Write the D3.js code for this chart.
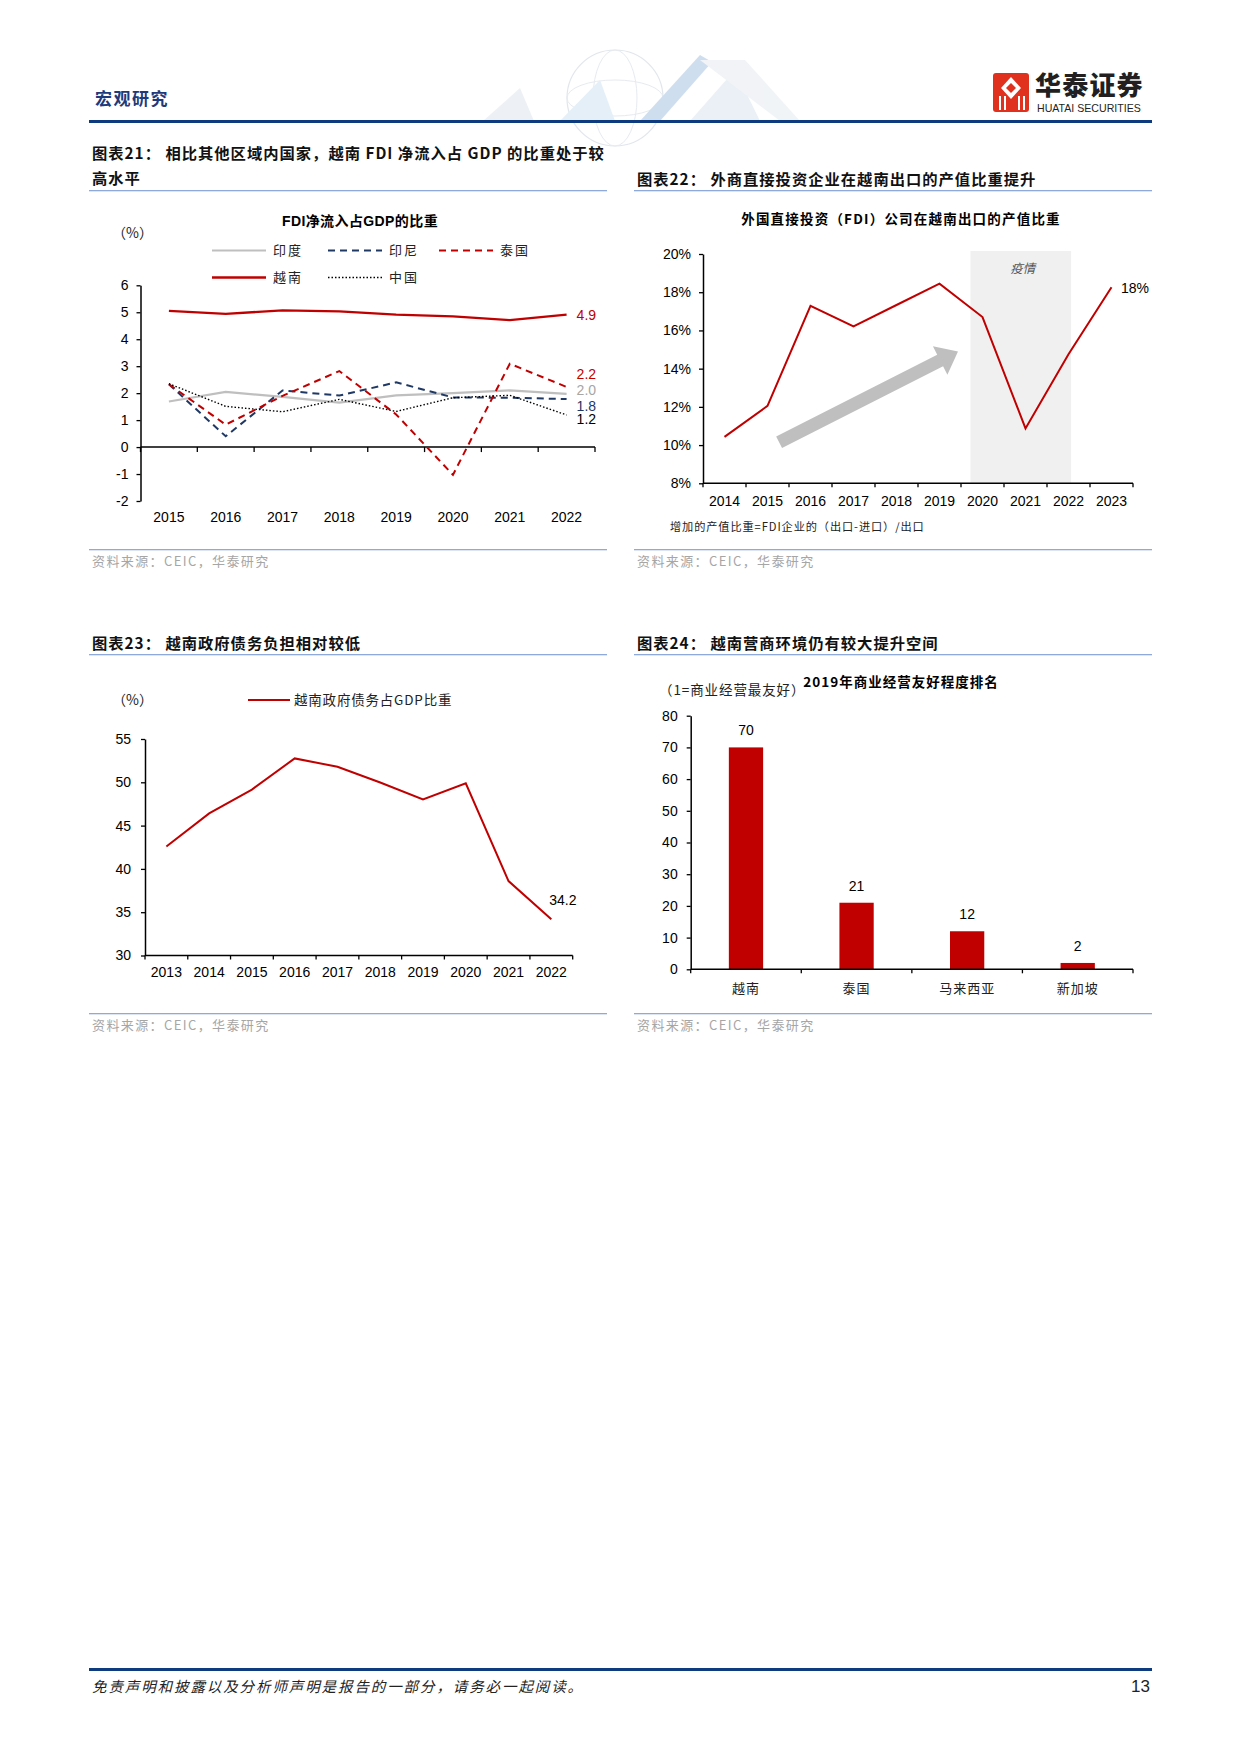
<!DOCTYPE html>
<html><head><meta charset="utf-8">
<script src="https://cdn.jsdelivr.net/npm/d3@7"></script>
<style>
html,body{margin:0;padding:0;background:#fff;}
svg{display:block;}
text{font-family:"Liberation Sans",Arial,"Noto Sans CJK SC",sans-serif;}
.cjk{font-family:"Noto Sans CJK SC",sans-serif;}
</style></head>
<body>
<script>
// ---------- DATA ----------
const fdiYears = ['2015','2016','2017','2018','2019','2020','2021','2022'];
const fdiIndia     = [1.69, 2.05, 1.86, 1.65, 1.92, 2.00, 2.10, 1.97];
const fdiIndonesia = [2.33, 0.40, 2.10, 1.91, 2.40, 1.84, 1.83, 1.78];
const fdiThailand  = [2.33, 0.83, 1.90, 2.82, 1.21, -1.03, 3.09, 2.23];
const fdiVietnam   = [5.05, 4.94, 5.07, 5.03, 4.91, 4.85, 4.71, 4.91];
const fdiChina     = [2.35, 1.51, 1.31, 1.77, 1.32, 1.83, 1.92, 1.19];
const fdiSeriesNames = ['印度','印尼','泰国','越南','中国'];
const fdiEndLabels = ['2.0','1.8','2.2','4.9','1.2'];
const fdiTicks = [-2,-1,0,1,2,3,4,5,6];

const expYears = ['2014','2015','2016','2017','2018','2019','2020','2021','2022','2023'];
const expShare = [10.43, 12.05, 17.29, 16.21, 17.33, 18.45, 16.70, 10.87, 14.75, 18.26];
const expTicks = [8,10,12,14,16,18,20];
const expEndLabel = '18%';
const expShadeFrom = '2020', expShadeTo = '2022';
const expShadeLabel = '疫情';

const debtYears = ['2013','2014','2015','2016','2017','2018','2019','2020','2021','2022'];
const debtShare = [42.58, 46.41, 49.16, 52.76, 51.79, 49.97, 48.03, 49.89, 38.59, 34.2];
const debtTicks = [30,35,40,45,50,55];
const debtEndLabel = '34.2';

const rankCountries = ['越南','泰国','马来西亚','新加坡'];
const rankValues = [70, 21, 12, 2];
const rankTicks = [0,10,20,30,40,50,60,70,80];

// ---------- PAGE ----------
const W = 1240, H = 1754;
const svg = d3.select('body').append('svg').attr('width', W).attr('height', H);
const RED = '#c00000', NAVY = '#1f3864', GRAY = '#bfbfbf', RULE = '#8eaadb';

// header decoration (faint globe + chevrons)
const deco = svg.append('g').attr('opacity', 0.55);
deco.append('circle').attr('cx', 615).attr('cy', 98).attr('r', 48).attr('fill', 'none').attr('stroke', '#c9d3de').attr('stroke-width', 1.2);
deco.append('ellipse').attr('cx', 615).attr('cy', 98).attr('rx', 22).attr('ry', 48).attr('fill', 'none').attr('stroke', '#d3dbe4').attr('stroke-width', 1);
deco.append('ellipse').attr('cx', 615).attr('cy', 98).attr('rx', 48).attr('ry', 18).attr('fill', 'none').attr('stroke', '#d3dbe4').attr('stroke-width', 1);
deco.append('path').attr('d', 'M483,121 L520,88 L534,121 Z').attr('fill', '#dfe6ee');
deco.append('path').attr('d', 'M560,121 L600,80 L615,121 Z').attr('fill', '#cfe3f3');
deco.append('path').attr('d', 'M640,121 L700,55 L712,62 L660,121 Z').attr('fill', '#a9c4e2');
deco.append('path').attr('d', 'M690,121 L735,70 L760,121 Z').attr('fill', '#dbe5ef');
deco.append('path').attr('d', 'M700,60 L745,60 L800,121 L780,121 Z').attr('fill', '#e6ebf1');

svg.append('text').attr('class','cjk').attr('x', 95).attr('y', 105).attr('font-size', 17).attr('font-weight', 700)
  .attr('letter-spacing', 1.5).attr('fill', '#1f3a7a').text('宏观研究');
// logo
const logo = svg.append('g');
logo.append('rect').attr('x', 993).attr('y', 73).attr('width', 36).attr('height', 39).attr('rx', 3).attr('fill', '#e0301e');
logo.append('path').attr('d', 'M1011,77 L1021,88 L1011,99 L1001,88 Z').attr('fill', '#fff');
logo.append('path').attr('d', 'M1011,83 L1016,88 L1011,93 L1006,88 Z').attr('fill', '#e0301e');
[999,1004,1018,1023].forEach(x => logo.append('rect').attr('x', x).attr('y', 96).attr('width', 2).attr('height', 14).attr('fill', '#fff'));
logo.append('text').attr('class','cjk').attr('x', 1035).attr('y', 95).attr('font-size', 26).attr('font-weight', 900)
  .attr('letter-spacing', 1.2).attr('fill', '#231f20').text('华泰证券');
logo.append('text').attr('x', 1037).attr('y', 112).attr('font-size', 10.6).attr('fill', '#231f20').text('HUATAI SECURITIES');
svg.append('rect').attr('x', 89).attr('y', 120).attr('width', 1063).attr('height', 3).attr('fill', '#0d3b7e');

// footer
svg.append('rect').attr('x', 89).attr('y', 1668).attr('width', 1063).attr('height', 3).attr('fill', '#0d3b7e');
svg.append('text').attr('class','cjk').attr('x', 92).attr('y', 1692).attr('font-size', 14.5).attr('font-style', 'italic')
  .attr('letter-spacing', 1.9).attr('fill', '#222').text('免责声明和披露以及分析师声明是报告的一部分，请务必一起阅读。');
svg.append('text').attr('x', 1150).attr('y', 1692).attr('text-anchor', 'end').attr('font-size', 17).attr('fill', '#222').text('13');

// panel helpers
function sectionTitle(x, y, lines, x2, ruleY) {
  lines.forEach((t, i) => svg.append('text').attr('class','cjk').attr('x', x).attr('y', y + i * 25)
    .attr('font-size', 15.3).attr('font-weight', 700).attr('fill', '#111').attr('letter-spacing', 1.0).text(t));
  svg.append('rect').attr('x', x - 3).attr('y', ruleY).attr('width', x2 - x + 3).attr('height', 1.3).attr('fill', RULE);
}
function source(x, x2, ruleY) {
  svg.append('rect').attr('x', x - 3).attr('y', ruleY).attr('width', x2 - x + 3).attr('height', 1.3).attr('fill', RULE);
  svg.append('text').attr('class','cjk').attr('x', x).attr('y', ruleY + 17).attr('font-size', 13).attr('fill', '#a6a6a6')
    .attr('letter-spacing', 1.4).text('资料来源：CEIC，华泰研究');
}
function bandAxis(g, x, y0, tickLen) {
  const [r0, r1] = x.range();
  g.append('line').attr('x1', r0).attr('x2', r1).attr('y1', y0).attr('y2', y0).attr('stroke', '#000').attr('stroke-width', 1.5);
  const n = x.domain().length;
  d3.range(n + 1).forEach(i => {
    const tx = r0 + (r1 - r0) / n * i;
    g.append('line').attr('x1', tx).attr('x2', tx).attr('y1', y0).attr('y2', y0 + tickLen).attr('stroke', '#000').attr('stroke-width', 1.3);
  });
}
function yAxis(g, y, x0, ticks, fmt, pad) {
  const ax = d3.axisLeft(y).tickValues(ticks).tickSize(4).tickSizeOuter(0).tickPadding(pad).tickFormat(fmt);
  const a = g.append('g').attr('transform', `translate(${x0},0)`).call(ax);
  a.select('.domain').attr('stroke', '#000').attr('stroke-width', 1.5);
  a.selectAll('.tick line').attr('stroke', '#000').attr('stroke-width', 1.3);
  a.selectAll('.tick text').attr('font-size', 14).attr('fill', '#000').attr('font-family', '"Liberation Sans",Arial,sans-serif');
  return a;
}

// ---------- CHART 21 ----------
sectionTitle(92, 159, ['图表21：  相比其他区域内国家，越南 FDI 净流入占 GDP 的比重处于较', '高水平'], 607, 190);
{
  const g = svg.append('g');
  const x = d3.scaleBand().domain(fdiYears).range([140.5, 595]);
  const y = d3.scaleLinear().domain([-2, 6]).range([501, 285.3]);
  g.append('text').attr('x', 360).attr('y', 226).attr('text-anchor', 'middle').attr('font-size', 14).attr('font-weight', 700)
    .attr('letter-spacing', 0.4).attr('fill', '#000').text('FDI净流入占GDP的比重');
  g.append('text').attr('class','cjk').attr('x', 112).attr('y', 238).attr('font-size', 14).attr('fill', '#222').text('（%）');
  yAxis(g, y, 140.5, fdiTicks, d => String(d), 8);
  bandAxis(g, x, y(0), 5);
  fdiYears.forEach(yr => g.append('text').attr('x', x(yr) + x.bandwidth() / 2).attr('y', 522).attr('text-anchor', 'middle')
    .attr('font-size', 14).attr('fill', '#000').text(yr));
  const series = [
    {name: fdiSeriesNames[0], v: fdiIndia, c: GRAY, w: 2.2, dash: null, lx: 212, ly: 250.5, lab: fdiEndLabels[0], dy: -3.5},
    {name: fdiSeriesNames[1], v: fdiIndonesia, c: NAVY, w: 2, dash: '7,5', lx: 328, ly: 250.5, lab: fdiEndLabels[1], dy: 7},
    {name: fdiSeriesNames[2], v: fdiThailand, c: RED, w: 2, dash: '7,5', lx: 439, ly: 250.5, lab: fdiEndLabels[2], dy: -13},
    {name: fdiSeriesNames[3], v: fdiVietnam, c: RED, w: 2.3, dash: null, lx: 212, ly: 277.5, lab: fdiEndLabels[3], dy: 0},
    {name: fdiSeriesNames[4], v: fdiChina, c: '#000', w: 1.4, dash: '1.5,2', lx: 328, ly: 277.5, lab: fdiEndLabels[4], dy: 4.5}
  ];
  const line = d3.line().x((d, i) => x(fdiYears[i]) + x.bandwidth() / 2).y(d => y(d));
  const labColors = {'印度': '#a6a6a6', '印尼': NAVY, '泰国': RED, '越南': RED, '中国': '#000'};
  series.forEach(s => {
    g.append('path').datum(s.v).attr('d', line).attr('fill', 'none').attr('stroke', s.c).attr('stroke-width', s.w)
      .attr('stroke-dasharray', s.dash);
    g.append('line').attr('x1', s.lx).attr('x2', s.lx + 54).attr('y1', s.ly).attr('y2', s.ly).attr('stroke', s.c)
      .attr('stroke-width', s.w).attr('stroke-dasharray', s.dash);
    g.append('text').attr('class','cjk').attr('x', s.lx + 61).attr('y', s.ly + 4.5).attr('font-size', 13).attr('fill', '#222')
      .attr('letter-spacing', 2).text(s.name);
    const last = s.v.length - 1;
    g.append('text').attr('x', x(fdiYears[last]) + x.bandwidth() / 2 + 10).attr('y', y(s.v[last]) + s.dy + 5)
      .attr('font-size', 14).attr('fill', labColors[s.name]).text(s.lab);
  });
}
source(92, 607, 549);

// ---------- CHART 22 ----------
sectionTitle(637, 185, ['图表22：  外商直接投资企业在越南出口的产值比重提升'], 1152, 190);
{
  const g = svg.append('g');
  const x = d3.scaleBand().domain(expYears).range([703, 1133]);
  const y = d3.scaleLinear().domain([8, 20]).range([483.3, 254]);
  const cx = yr => x(yr) + x.bandwidth() / 2;
  g.append('text').attr('class','cjk').attr('x', 901).attr('y', 224).attr('text-anchor', 'middle').attr('font-size', 13.5)
    .attr('font-weight', 700).attr('letter-spacing', 1.2).attr('fill', '#000').text('外国直接投资（FDI）公司在越南出口的产值比重');
  // shaded period
  const sx0 = cx(expShadeFrom) - 0.28 * x.step(), sx1 = cx(expShadeTo) + 0.06 * x.step();
  g.append('rect').attr('x', sx0).attr('y', y(20) - 3).attr('width', sx1 - sx0).attr('height', y(8) - y(20) + 3).attr('fill', '#f0f0f0');
  g.append('text').attr('class','cjk').attr('x', (sx0 + sx1) / 2 + 2).attr('y', 273).attr('text-anchor', 'middle')
    .attr('font-size', 12.5).attr('font-style', 'italic').attr('fill', '#555').text(expShadeLabel);
  // arrow (data space anchors)
  const ax0 = cx(expYears[1]) + 0.27 * x.step(), ay0 = y(10.15);
  const ax1 = cx(expYears[5]) + 0.43 * x.step(), ay1 = y(14.9);
  const dx = ax1 - ax0, dy = ay1 - ay0, L = Math.hypot(dx, dy), ux = dx / L, uy = dy / L, nx = -uy, ny = ux;
  const hl = 20, hw = 16, sw = 6.5;
  const bx = ax1 - ux * hl, by = ay1 - uy * hl;
  const pts = [[ax0 + nx * sw, ay0 + ny * sw], [bx + nx * sw, by + ny * sw], [bx + nx * hw, by + ny * hw], [ax1, ay1],
    [bx - nx * hw, by - ny * hw], [bx - nx * sw, by - ny * sw], [ax0 - nx * sw, ay0 - ny * sw]];
  g.append('path').attr('d', 'M' + pts.map(p => p.join(',')).join('L') + 'Z').attr('fill', '#bfbfbf');
  yAxis(g, y, 703, expTicks, d => d + '%', 8);
  bandAxis(g, x, y(8), 4);
  expYears.forEach(yr => g.append('text').attr('x', cx(yr)).attr('y', 506).attr('text-anchor', 'middle')
    .attr('font-size', 14).attr('fill', '#000').text(yr));
  const line = d3.line().x((d, i) => cx(expYears[i])).y(d => y(d));
  g.append('path').datum(expShare).attr('d', line).attr('fill', 'none').attr('stroke', RED).attr('stroke-width', 2);
  const li = expShare.length - 1;
  g.append('text').attr('x', cx(expYears[li]) + 9.5).attr('y', y(expShare[li]) + 6).attr('font-size', 14).attr('fill', '#000').text(expEndLabel);
  g.append('text').attr('class','cjk').attr('x', 670).attr('y', 531).attr('font-size', 11.2).attr('letter-spacing', 0.9).attr('fill', '#222')
    .text('增加的产值比重=FDI企业的（出口-进口）/出口');
}
source(637, 1152, 549);

// ---------- CHART 23 ----------
sectionTitle(92, 649, ['图表23：  越南政府债务负担相对较低'], 607, 654);
{
  const g = svg.append('g');
  const x = d3.scaleBand().domain(debtYears).range([145, 572.7]);
  const y = d3.scaleLinear().domain([30, 55]).range([955.5, 739]);
  const cx = yr => x(yr) + x.bandwidth() / 2;
  g.append('text').attr('class','cjk').attr('x', 112).attr('y', 705).attr('font-size', 14).attr('fill', '#222').text('（%）');
  g.append('line').attr('x1', 248).attr('x2', 290).attr('y1', 700).attr('y2', 700).attr('stroke', RED).attr('stroke-width', 2.2);
  g.append('text').attr('class','cjk').attr('x', 294).attr('y', 705).attr('font-size', 13.5).attr('letter-spacing', 0.8)
    .attr('fill', '#222').text('越南政府债务占GDP比重');
  yAxis(g, y, 145, debtTicks, d => String(d), 10);
  bandAxis(g, x, y(30), 4);
  debtYears.forEach(yr => g.append('text').attr('x', cx(yr)).attr('y', 977).attr('text-anchor', 'middle')
    .attr('font-size', 14).attr('fill', '#000').text(yr));
  const line = d3.line().x((d, i) => cx(debtYears[i])).y(d => y(d));
  g.append('path').datum(debtShare).attr('d', line).attr('fill', 'none').attr('stroke', RED).attr('stroke-width', 2);
  const li = debtShare.length - 1;
  g.append('text').attr('x', cx(debtYears[li]) + 11.5).attr('y', y(debtShare[li]) - 14).attr('text-anchor', 'middle')
    .attr('font-size', 14).attr('fill', '#000').text(debtEndLabel);
}
source(92, 607, 1013);

// ---------- CHART 24 ----------
sectionTitle(637, 649, ['图表24：  越南营商环境仍有较大提升空间'], 1152, 654);
{
  const g = svg.append('g');
  const x = d3.scaleBand().domain(rankCountries).range([690.7, 1133]).paddingInner(0.69).paddingOuter(0.345);
  const y = d3.scaleLinear().domain([0, 80]).range([969.3, 715.7]);
  g.append('text').attr('class','cjk').attr('x', 901).attr('y', 687).attr('text-anchor', 'middle').attr('font-size', 13.5)
    .attr('font-weight', 700).attr('letter-spacing', 1).attr('fill', '#000').text('2019年商业经营友好程度排名');
  g.append('text').attr('class','cjk').attr('x', 659).attr('y', 695).attr('font-size', 13.5).attr('letter-spacing', 0.9)
    .attr('fill', '#222').text('（1=商业经营最友好）');
  g.selectAll('rect.bar').data(rankValues).enter().append('rect').attr('class', 'bar')
    .attr('x', (d, i) => x(rankCountries[i])).attr('width', x.bandwidth())
    .attr('y', d => y(d)).attr('height', d => y(0) - y(d)).attr('fill', RED);
  g.selectAll('text.val').data(rankValues).enter().append('text').attr('class', 'val')
    .attr('x', (d, i) => x(rankCountries[i]) + x.bandwidth() / 2).attr('y', d => y(d) - 12)
    .attr('text-anchor', 'middle').attr('font-size', 14).attr('fill', '#000').text(d => d);
  yAxis(g, y, 690.7, rankTicks, d => String(d), 9);
  const [r0, r1] = x.range();
  g.append('line').attr('x1', r0).attr('x2', r1).attr('y1', y(0)).attr('y2', y(0)).attr('stroke', '#000').attr('stroke-width', 1.5);
  d3.range(rankCountries.length + 1).forEach(i => {
    const tx = r0 + (r1 - r0) / rankCountries.length * i;
    g.append('line').attr('x1', tx).attr('x2', tx).attr('y1', y(0)).attr('y2', y(0) + 4).attr('stroke', '#000').attr('stroke-width', 1.3);
  });
  rankCountries.forEach(c => g.append('text').attr('class','cjk').attr('x', x(c) + x.bandwidth() / 2).attr('y', 993)
    .attr('text-anchor', 'middle').attr('font-size', 13).attr('letter-spacing', 1).attr('fill', '#222').text(c));
}
source(637, 1152, 1013);
</script>
</body></html>
